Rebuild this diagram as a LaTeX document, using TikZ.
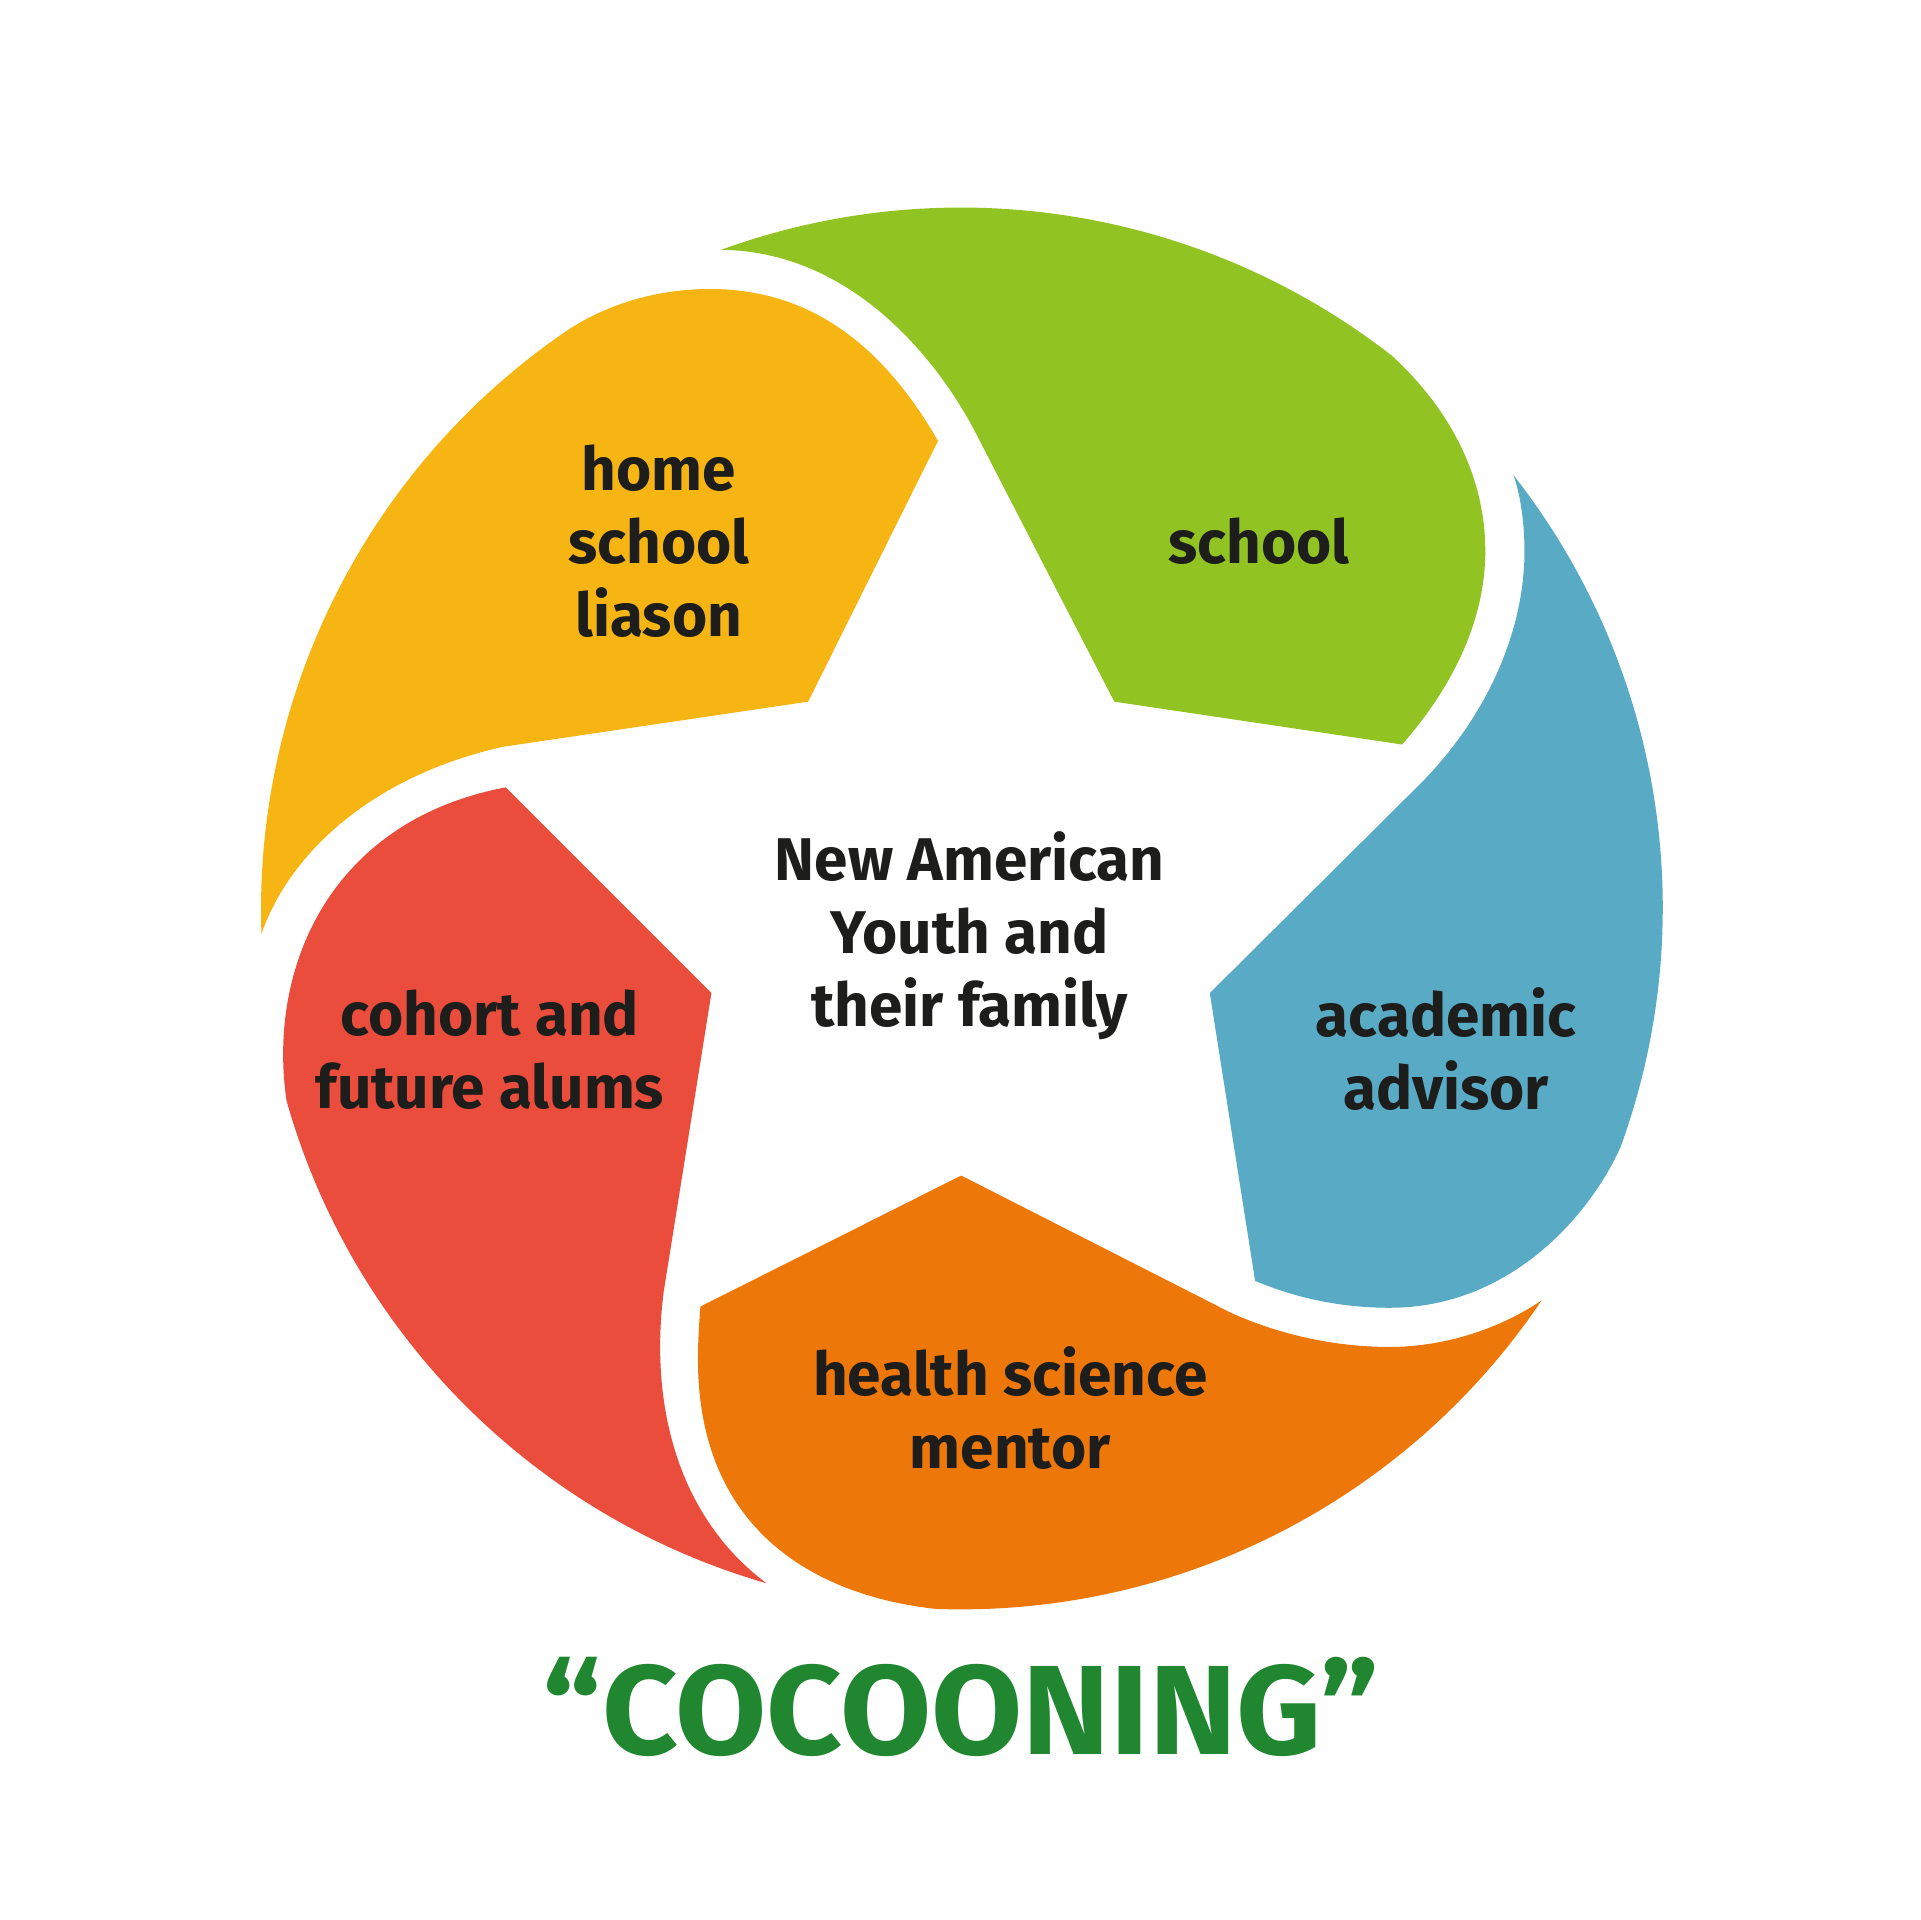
\documentclass[tikz,border=0pt]{standalone}
\usepackage{fontspec}
\setmainfont{Fira Sans}
\usetikzlibrary{calc}
\definecolor{yel}{HTML}{F7B513}
\definecolor{grn}{HTML}{91C323}
\definecolor{blu}{HTML}{58AAC5}
\definecolor{rd}{HTML}{EB4D3D}
\definecolor{org}{HTML}{ED7709}
\definecolor{txt}{HTML}{1D1D1B}
\definecolor{ttl}{HTML}{208630}
\begin{document}
\begin{tikzpicture}[x=0.01cm,y=-0.01cm,
  lbl/.style={font=\bfseries\fontsize{14}{16.9}\selectfont, text=txt, align=center, inner sep=0pt},
  ttlstyle/.style={font=\bfseries\fontsize{29.5}{34}\selectfont, text=ttl, inner sep=0pt, xscale=1.04}]
\useasboundingbox (0,0) rectangle (1568,1568);
\coordinate (C) at (785,742);
% yellow petal
\fill[yel] (660,573) -- (766,360) .. controls (720,280) and (660,236) .. (580,236)
  .. controls (530,236) and (490,252) .. (463,270)
  arc[start angle=124.3, end angle=182, radius=5.72cm]
  .. controls (235,700) and (300,635) .. (410,610) -- cycle;
% green petal
\fill[grn] (910,573) -- (795,350) .. controls (760,285) and (690,205) .. (589,204)
  arc[start angle=110, end angle=52, radius=5.72cm]
  .. controls (1185,335) and (1213,390) .. (1213,450)
  .. controls (1213,510) and (1183,565) .. (1145,608) -- cycle;
% blue petal
\fill[blu] (988,811) -- (1163,637) .. controls (1215,583) and (1245,515) .. (1245,450)
  .. controls (1245,428) and (1242,405) .. (1236,388)
  arc[start angle=38.1, end angle=-19.9, radius=5.72cm]
  .. controls (1300,990) and (1235,1068) .. (1135,1068)
  .. controls (1095,1068) and (1058,1060) .. (1025,1046) -- cycle;
% orange petal
\fill[org] (785,960) -- (1005,1072) .. controls (1045,1090) and (1090,1100) .. (1135,1100)
  .. controls (1180,1100) and (1225,1085) .. (1259,1062)
  arc[start angle=-34, end angle=-92, radius=5.72cm]
  .. controls (680,1305) and (570,1260) .. (570,1110)
  .. controls (570,1095) and (571,1080) .. (572,1067) -- cycle;
% red petal
\fill[rd] (581,811) -- (542,1055) .. controls (530,1150) and (555,1240) .. (626,1293)
  arc[start angle=-106.1, end angle=-164.2, radius=5.72cm]
  .. controls (218,790) and (270,670) .. (413,643) -- cycle;
% labels
\node[lbl] (home) at (538,442) {home\\school\\liason};
\node[lbl] (school) at (1028,442) {school};
\node[lbl] (center) at (792,764) {New American\\Youth and\\their family};
\node[lbl] (acad) at (1181,857) {academic\\advisor};
\node[lbl] (cohort) at (400,857) {cohort and\\future alums};
\node[lbl] (health) at (825,1150) {health science\\mentor};
\node[ttlstyle] (title) at (785,1394) {“COCOONING”};
\end{tikzpicture}
\end{document}
